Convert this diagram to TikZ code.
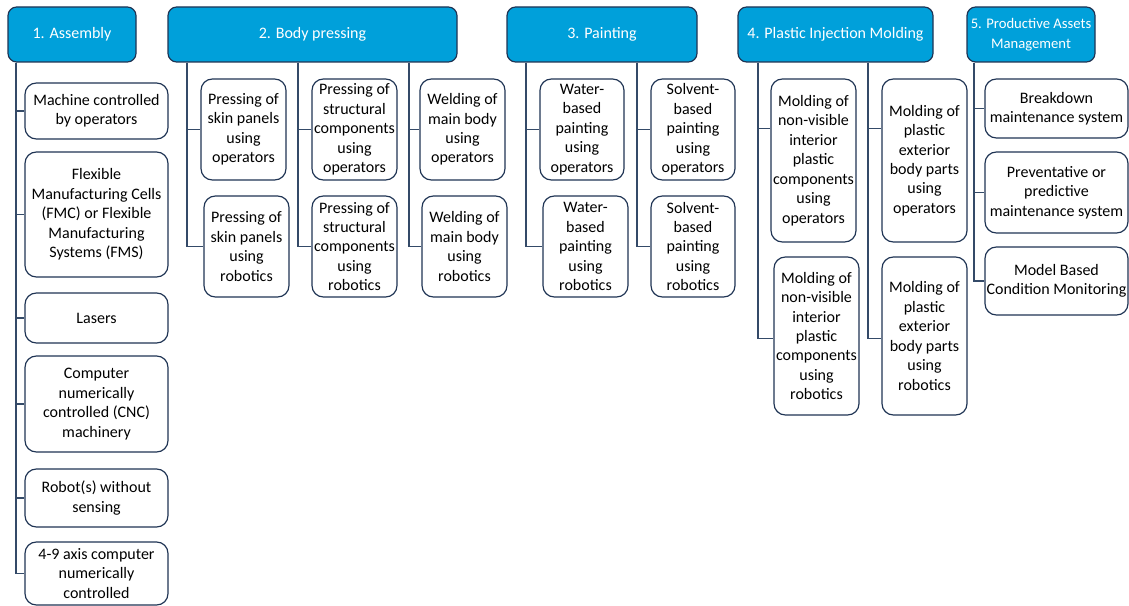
\documentclass[tikz,border=0pt]{standalone}
\usepackage{fontspec}
\setmainfont{Carlito}
\usetikzlibrary{calc}
\definecolor{headblue}{RGB}{0,160,218}
\definecolor{navy}{RGB}{31,52,84}
\definecolor{linkgray}{RGB}{52,74,104}
\tikzset{
  cell/.style={draw=navy, line width=0.9pt, fill=white, rounded corners=8.5,
    inner sep=0pt, align=center, text=black,
    font=\fontsize{12pt}{14.6pt}\selectfont},
  head/.style={cell, fill=headblue, rounded corners=6.5, text=white},
  link/.style={draw=linkgray, line width=0.9pt}
}
% box from corner (x1,y1) to (x2,y2), pixel units
\newcommand\mkbox[7][cell]{%
  \node[#1, minimum width={(#5-#3)*0.75pt}, minimum height={(#6-#4)*0.75pt}]
    (#2) at ({(#3+#5)/2},{(#4+#6)/2}) {#7};}
\begin{document}
\begin{tikzpicture}[x=0.75pt,y=-0.75pt]
\useasboundingbox (0,0) rectangle (1129,606);

% headers
\mkbox[head]{h1}{8}{7}{136}{62}{1. Assembly}
\mkbox[head]{h2}{168}{7}{457}{62}{2. Body pressing}
\mkbox[head]{h3}{507}{7}{697}{62}{3. Painting}
\mkbox[head]{h4}{738}{7}{933}{62}{4. Plastic Injection Molding}
\mkbox[head, font=\fontsize{11pt}{14.6pt}\selectfont]{h5}{967}{7}{1095}{62}{5. Productive Assets\\Management}

% trunk positions
\coordinate (t1) at (16,62);
\coordinate (t2a) at (187,62);
\coordinate (t2b) at (298,62);
\coordinate (t2c) at (409,62);
\coordinate (t3a) at (526,62);
\coordinate (t3b) at (637,62);
\coordinate (t4a) at (758,62);
\coordinate (t4b) at (868,62);
\coordinate (t5) at (974,62);

% 1. Assembly
\mkbox{a1}{25}{83}{168}{139}{Machine controlled\\by operators}
\mkbox{a2}{25}{152}{168}{277}{Flexible\\Manufacturing Cells\\(FMC) or Flexible\\Manufacturing\\Systems (FMS)}
\mkbox{a3}{25}{293}{168}{343}{Lasers}
\mkbox{a4}{25}{356}{168}{452}{Computer\\numerically\\controlled (CNC)\\machinery}
\mkbox{a5}{25}{469}{168}{527}{Robot(s) without\\sensing}
\mkbox{a6}{25}{542}{168}{605}{4-9 axis computer\\numerically\\controlled}

% 2. Body pressing
\mkbox{b1}{201}{79}{286}{180}{Pressing of\\skin panels\\using\\operators}
\mkbox{b2}{204}{196}{289}{297}{Pressing of\\skin panels\\using\\robotics}
\mkbox{b3}{312}{79}{397}{180}{Pressing of\\structural\\components\\using\\operators}
\mkbox{b4}{312}{196}{397}{297}{Pressing of\\structural\\components\\using\\robotics}
\mkbox{b5}{420}{79}{505}{180}{Welding of\\main body\\using\\operators}
\mkbox{b6}{422}{196}{507}{297}{Welding of\\main body\\using\\robotics}

% 3. Painting
\mkbox{c1}{540}{79}{624}{180}{Water-\\based\\painting\\using\\operators}
\mkbox{c2}{543}{196}{628}{297}{Water-\\based\\painting\\using\\robotics}
\mkbox{c3}{651}{79}{735}{180}{Solvent-\\based\\painting\\using\\operators}
\mkbox{c4}{651}{196}{735}{297}{Solvent-\\based\\painting\\using\\robotics}

% 4. Plastic injection molding
\mkbox{d1}{771}{79}{856}{242}{Molding of\\non-visible\\interior\\plastic\\components\\using\\operators}
\mkbox{d2}{774}{257}{859}{415}{Molding of\\non-visible\\interior\\plastic\\components\\using\\robotics}
\mkbox{d3}{882}{79}{967}{242}{Molding of\\plastic\\exterior\\body parts\\using\\operators}
\mkbox{d4}{882}{257}{967}{415}{Molding of\\plastic\\exterior\\body parts\\using\\robotics}

% 5. Productive assets management
\mkbox{e1}{985}{79}{1128}{138}{Breakdown\\maintenance system}
\mkbox{e2}{985}{152}{1128}{233}{Preventative or\\predictive\\maintenance system}
\mkbox{e3}{985}{247}{1128}{315}{Model Based\\Condition Monitoring}

% connectors
\begin{scope}[on background layer/.try]
\foreach \c in {a1,a2,a3,a4,a5,a6} \draw[link] (h1.south -| t1) |- (\c.west);
\draw[link] (h2.south -| t2a) |- (b1.west);
\draw[link] (h2.south -| t2a) |- (b2.west);
\draw[link] (h2.south -| t2b) |- (b3.west);
\draw[link] (h2.south -| t2b) |- (b4.west);
\draw[link] (h2.south -| t2c) |- (b5.west);
\draw[link] (h2.south -| t2c) |- (b6.west);
\draw[link] (h3.south -| t3a) |- (c1.west);
\draw[link] (h3.south -| t3a) |- (c2.west);
\draw[link] (h3.south -| t3b) |- (c3.west);
\draw[link] (h3.south -| t3b) |- (c4.west);
\draw[link] (h4.south -| t4a) |- ($(d1.north west)!0.307!(d1.south west)$);
\draw[link] (h4.south -| t4a) |- ([yshift=-2pt]d2.west);
\draw[link] (h4.south -| t4b) |- ($(d3.north west)!0.307!(d3.south west)$);
\draw[link] (h4.south -| t4b) |- ([yshift=-2pt]d4.west);
\foreach \c in {e1,e2,e3} \draw[link] (h5.south -| t5) |- (\c.west);
\end{scope}
\end{tikzpicture}
\end{document}
